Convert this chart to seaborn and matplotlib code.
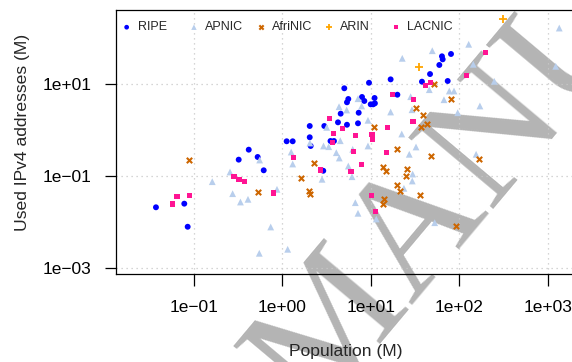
import numpy as np
import pandas as pd
import seaborn as sns
import matplotlib.pyplot as plt
from matplotlib.ticker import FixedLocator, NullLocator, FuncFormatter

# Population (M) et adresses IPv4 utilisees (M), par registre
ripe_pop = [0.0375, 0.0783, 0.0855, 0.322, 0.418, 0.527, 0.617, 1.12, 1.31, 2.04,
            2.09, 2.04, 2.98, 3.50, 3.83, 4.25, 4.56, 5.37, 5.56, 5.01,
            7.28, 7.15, 5.37, 7.94, 8.43, 9.52, 11.0, 9.95, 10.6, 11.1,
            16.7, 19.9, 2.90, 80.2, 63.4, 64.6, 59.2, 46.5, 37.7, 73.6]
ripe_ips = [0.0212, 0.0254, 0.0080, 0.230, 0.379, 0.263, 0.135, 0.577, 0.577, 0.705,
            0.456, 1.24, 1.24, 0.585, 0.585, 1.49, 2.30, 4.06, 4.79, 8.19,
            2.41, 1.42, 1.32, 5.30, 4.34, 10.8, 5.04, 3.67, 3.67, 3.86,
            12.8, 5.94, 0.132, 45.6, 40.6, 34.9, 26.3, 16.7, 11.4, 11.8]

apnic_pop = [0.162, 0.257, 0.275, 0.337, 0.410, 0.555, 0.871, 0.740, 0.550, 1.15,
             1.26, 1.31, 2.05, 2.92, 3.34, 4.07, 4.40, 2.81, 4.37, 5.33,
             7.15, 7.87, 9.27, 4.51, 3.17, 6.23, 9.27, 16.7, 5.56, 6.12,
             6.67, 7.15, 11.5, 127, 49.3, 22.6, 143, 247, 1337, 1219,
             45.6, 76.7, 86.7, 66.8, 170, 29.1, 95.4, 28.1, 22.3, 32.3,
             27.1, 29.6, 29.3, 23.6, 154, 52.5]
apnic_ips = [0.0764, 0.124, 0.0419, 0.0276, 0.0316, 0.226, 0.0521, 0.00791, 0.00212, 0.00259,
             0.337, 0.185, 0.530, 0.456, 0.440, 0.326, 0.250, 0.0861, 3.26, 2.76,
             4.86, 3.38, 1.65, 0.594, 1.16, 0.386, 0.456, 2.50, 0.167, 0.0980,
             0.0267, 0.0157, 0.0118, 74.1, 53.7, 36.7, 27.2, 11.6, 167, 24.6,
             7.64, 7.15, 7.15, 4.62, 3.38, 2.80, 2.41, 5.38, 0.831, 0.434,
             0.301, 0.112, 0.0791, 0.0548, 0.301, 0.00980]

afrinic_pop = [0.0885, 0.532, 2.26, 1.63, 2.00, 2.04, 10.8, 19.9, 13.6, 14.8,
               14.1, 13.6, 19.5, 21.5, 52.2, 80.2, 32.1, 38.4, 37.0, 42.8,
               47.7, 25.4, 25.0, 36.1, 168, 90.8]
afrinic_ips = [0.223, 0.0456, 0.197, 0.0905, 0.0486, 0.0414, 1.16, 0.402, 0.157, 0.130,
               0.0326, 0.0250, 0.0663, 0.0486, 10.3, 4.86, 2.98, 2.10, 1.19, 1.35,
               0.276, 0.143, 0.103, 0.0398, 0.235, 0.00831]

arin_pop = [312, 34.6]
arin_ips = [263, 23.8]

lacnic_pop = [0.0648, 0.0573, 0.0891, 0.285, 0.324, 0.372, 0.791, 1.33, 2.69, 3.66,
              3.39, 3.76, 4.78, 6.70, 6.31, 5.96, 7.89, 10.3, 10.5, 15.3,
              15.0, 17.6, 10.2, 11.2, 30.0, 29.9, 47.2, 41.3, 119, 196]
lacnic_ips = [0.0367, 0.0250, 0.0386, 0.100, 0.0843, 0.0778, 0.0433, 0.259, 0.137, 0.543,
              1.78, 0.865, 1.08, 0.778, 0.341, 0.129, 0.182, 0.823, 0.647, 1.15,
              0.329, 6.06, 0.0379, 0.0174, 4.72, 1.53, 11.1, 9.42, 15.8, 49.1]

x_ticks = [1e-1, 1e0, 1e1, 1e2, 1e3]
y_ticks = [1e-3, 1e-1, 1e1]

sns.set_style("ticks")
plt.rcParams['font.family'] = ['Liberation Sans', 'DejaVu Sans']

fig = plt.figure(figsize=(5.72, 3.62), dpi=100)
ax = fig.add_axes([116 / 572, 88 / 362, 460 / 572, 264.5 / 362])
ax.set_facecolor('none')

# style par registre : (pop, ips, couleur, marqueur, taille, epaisseur)
series = {
    "RIPE": (ripe_pop, ripe_ips, "#0000FF", "o", 18, 0),
    "APNIC": (apnic_pop, apnic_ips, "#B8CEEC", "^", 24, 0),
    "AfriNIC": (afrinic_pop, afrinic_ips, "#CD6600", "x", 15, 1.5),
    "ARIN": (arin_pop, arin_ips, "#FFA500", "+", 28, 1.3),
    "LACNIC": (lacnic_pop, lacnic_ips, "#FF1493", "s", 14, 0),
}

for name, (pop, ips, col, mk, size, lw) in series.items():
    df = pd.DataFrame({"pop": pop, "ips": ips})
    if lw == 0:
        sns.scatterplot(data=df, x="pop", y="ips", color=col, marker=mk, s=size,
                        linewidth=0, edgecolor='none', label=name, ax=ax, zorder=3)
    else:
        sns.scatterplot(data=df, x="pop", y="ips", color=col, marker=mk, s=size,
                        linewidth=lw, label=name, ax=ax, zorder=3)

ax.set_xscale('log')
ax.set_yscale('log')
ax.set_xlim(10 ** -1.877, 10 ** 3.315)
ax.set_ylim(10 ** -3.124, 10 ** 2.626)

fmt = FuncFormatter(lambda v, p: f"{v:.0e}".replace("-", "\u2212"))
ax.xaxis.set_major_locator(FixedLocator(x_ticks))
ax.yaxis.set_major_locator(FixedLocator(y_ticks))
ax.xaxis.set_minor_locator(NullLocator())
ax.yaxis.set_minor_locator(NullLocator())
ax.xaxis.set_major_formatter(fmt)
ax.yaxis.set_major_formatter(fmt)
ax.tick_params(axis='x', length=8.4, width=0.9, pad=10, labelsize=12.5, colors='black')
ax.tick_params(axis='y', length=8, width=0.9, pad=9.5, labelsize=12.5, colors='black')

# grille pointillee
ax.grid(True, which='major', color='#C8C8C8', linestyle=(0, (1, 3)), linewidth=0.9)
for sp in ax.spines.values():
    sp.set_visible(True)
    sp.set_color('black')
    sp.set_linewidth(0.9)

ax.set_xlabel("Population (M)", fontsize=12.6)
ax.set_ylabel("Used IPv4 addresses (M)", fontsize=12.6)
ax.xaxis.set_label_coords(346 / 572, 1 - 344 / 362, transform=fig.transFigure)
ax.yaxis.set_label_coords(30 / 572, 1 - 132 / 362, transform=fig.transFigure)

# legende horizontale a pas constant (une entree par colonne, comme R)
handles, labels = ax.get_legend_handles_labels()
ax.get_legend().remove()
for i, (h, lab) in enumerate(zip(handles, labels)):
    leg = ax.legend([h], [lab], loc='center left',
                    bbox_to_anchor=((120.4 + i * 67.3 - 116) / 460, 0.932),
                    frameon=False, fontsize=9, handlelength=1.0, handletextpad=0.38,
                    borderpad=0, borderaxespad=0, markerscale=0.8)
    if i < len(handles) - 1:
        ax.add_artist(leg)

# filigrane
fig.text(314 / 572, 1 - 418 / 362, "MANUSCRIPT", rotation=50, rotation_mode='anchor',
         ha='left', va='baseline', fontsize=122, family='Liberation Serif',
         color='#B4B4B4', zorder=-1)

plt.savefig('out.png', dpi=100)
